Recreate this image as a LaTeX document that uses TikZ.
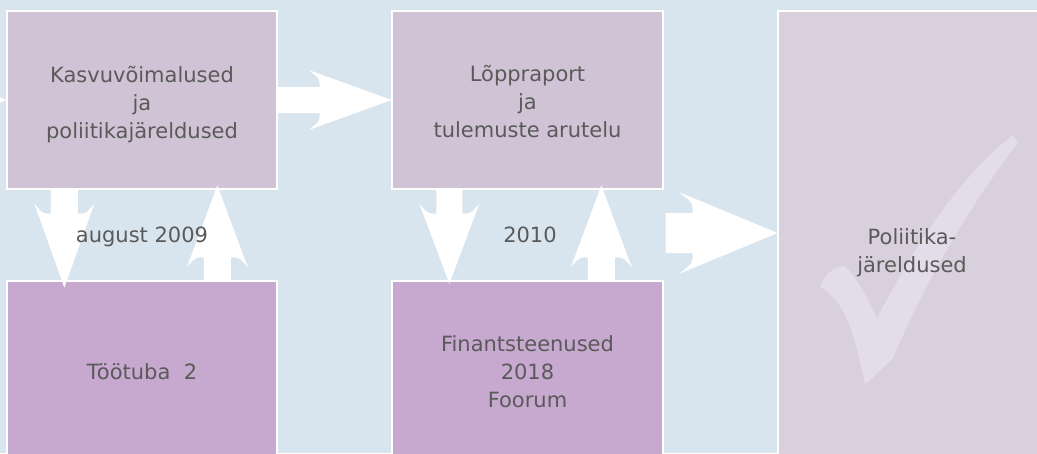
\documentclass[tikz,border=0pt]{standalone}
\usepackage{fontspec}
\setmainfont{DejaVu Sans}
\usetikzlibrary{calc}
\definecolor{bgc}{HTML}{D9E5EE}
\definecolor{topc}{HTML}{D0C3D6}
\definecolor{botc}{HTML}{C7A9CF}
\definecolor{endc}{HTML}{D8D0DD}
\definecolor{chkc}{HTML}{E3DCE9}
\definecolor{txt}{HTML}{5A5A5A}
\tikzset{
  box/.style={draw=white,line width=1.3pt,inner sep=0pt},
  lbl/.style={inner sep=0pt,align=center,text=txt,font=\fontsize{21}{28}\selectfont},
  pics/barrow/.style n args={5}{code={
    \fill[white] (0,{-#2}) -- ({#1-#5},{-#2})
      .. controls ({#1-#5},{-(#2+#3)/2}) .. ({#1-#4},{-#3})
      -- (#1,0) -- ({#1-#4},{#3})
      .. controls ({#1-#5},{(#2+#3)/2}) .. ({#1-#5},{#2})
      -- (0,{#2}) -- cycle;
  }}
}
\begin{document}
\begin{tikzpicture}[x=1pt,y=-1pt]
\useasboundingbox (0,0) rectangle (1037,453);
\clip (0,0) rectangle (1037,453);
\fill[bgc] (0,0) rectangle (1037,453);
% boxes
\node[box,fill=topc,minimum width=270pt,minimum height=178pt] (b1) at (142,100) {};
\node[box,fill=botc,minimum width=270pt,minimum height=200pt] (b2) at (142,381) {};
\node[box,fill=topc,minimum width=271pt,minimum height=178pt] (b3) at (527.5,100) {};
\node[box,fill=botc,minimum width=271pt,minimum height=200pt] (b4) at (527.5,381) {};
\node[box,fill=endc,minimum width=268pt,minimum height=469pt] (b5) at (912,245.5) {};
% check mark
\fill[chkc] (820,287) .. controls (824,275) and (834,266) .. (845,266)
  .. controls (858,280) and (868,298) .. (877,318)
  .. controls (910,255) and (955,180) .. (1013,135)
  -- (1018,143)
  .. controls (985,185) and (935,260) .. (893,358)
  -- (865,385)
  .. controls (855,335) and (845,300) .. (820,287) -- cycle;
% arrow anchors
\coordinate (a1) at (b1.east);
\coordinate (a2) at ($(b1.south west)+(58,0)$);
\coordinate (a3) at ($(b2.north west)+(211,0)$);
\coordinate (a4) at ($(b3.south west)+(58,0)$);
\coordinate (a5) at ($(b4.north west)+(210,0)$);
\coordinate (a6) at ($(b3.south east)!0.5!(b4.north east)+(2,-2)$);
\coordinate (a0) at ($(b1.west)+(-7,0)$);
% arrows
\fill[white] ($(a0)+(0,-3)$) -- (b1.west) -- ($(a0)+(0,3)$) -- cycle;
\pic at (a1) {barrow={114}{13}{30}{83}{72}};
\pic[rotate=-90] at (a2) {barrow={98}{13.5}{30}{84}{74}};
\pic[rotate=90] at (a3) {barrow={95}{13.5}{30.5}{82}{72}};
\pic[rotate=-90] at (a4) {barrow={94}{13}{30}{80}{70}};
\pic[rotate=90] at (a5) {barrow={95}{13.5}{30.5}{82}{72}};
\pic at (a6) {barrow={112}{20}{41}{99}{85}};
% texts
\node[lbl] (t1) at (142,104.5) {Kasvuvõimalused\\ja\\poliitikajäreldused};
\node[lbl] (t2) at (142,372) {Töötuba\ \ 2};
\node[lbl] (t3) at (527.5,101.5) {Lõppraport\\ja\\tulemuste arutelu};
\node[lbl] (t4) at (527.5,372) {Finantsteenused\\2018\\Foorum};
\node[lbl] (t5) at (912,253) {Poliitika-\\järeldused};
\node[lbl] (l1) at (142,237) {august 2009};
\node[lbl] (l2) at (530,235) {2010};
\end{tikzpicture}
\end{document}
